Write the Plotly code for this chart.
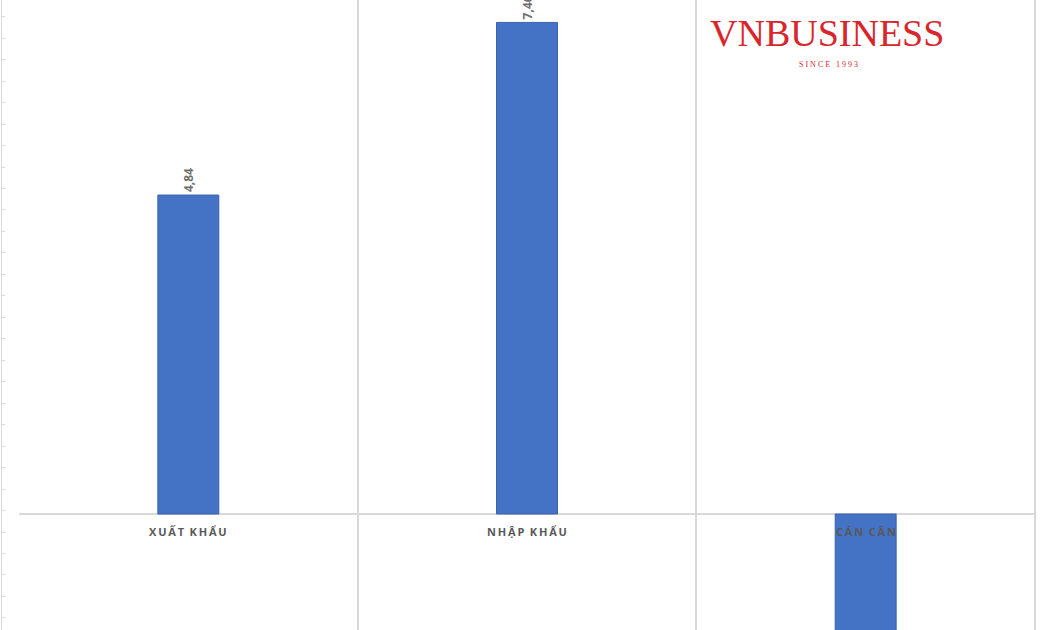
import plotly.graph_objects as go

# Data (billion USD)
categories = ["XUẤT KHẨU", "NHẬP KHẨU", "CÁN CÂN"]
values = [4.84, 7.46, -2.62]

BAR_COLOR = "#4472C4"
GRID_COLOR = "#d9d9d9"
LABEL_COLOR = "#595959"


def spaced(s):
    # mimic Excel's letter spacing on category labels
    return "\u2009".join(list(s)).replace("\u2009 \u2009", "\u2009\u2009\u2009")


fig = go.Figure()

fig.add_trace(go.Bar(
    x=categories,
    y=values,
    width=0.18,
    marker=dict(color=BAR_COLOR, line=dict(color="#3a63ad", width=1)),
    text=[f"{v:.2f}".replace(".", ",") for v in values],
    textposition="outside",
    textangle=-90,
    textfont=dict(family="Open Sans", size=12, color="#6f6f6f", weight="bold"),
    cliponaxis=True,
    hoverinfo="skip",
))

# Category labels sitting just under the zero line
for cat in categories:
    fig.add_annotation(
        x=cat, y=0, xref="x", yref="y",
        text=f"<b>{spaced(cat)}</b>",
        showarrow=False, yanchor="middle", xanchor="center", yshift=-17,
        font=dict(family="Open Sans", size=11, color=LABEL_COLOR),
    )

# Right-hand border of the plot area
fig.add_shape(type="line", xref="x domain", yref="y domain",
              x0=1, x1=1, y0=0, y1=1,
              line=dict(color=GRID_COLOR, width=2), layer="below")

# Logo
fig.add_annotation(
    x=0.788, y=0.948, xref="paper", yref="paper",
    xanchor="center", yanchor="middle",
    text="VNBUSINESS", showarrow=False,
    font=dict(family="Liberation Serif", size=38, color="#d9262c"),
)
fig.add_annotation(
    x=0.789, y=0.898, xref="paper", yref="paper",
    xanchor="center", yanchor="middle",
    text="S I N C E &nbsp; 1 9 9 3", showarrow=False,
    font=dict(family="Liberation Serif", size=8, color="#d9262c"),
)

fig.update_layout(
    width=1050,
    height=630,
    margin=dict(l=0, r=0, t=0, b=0),
    paper_bgcolor="white",
    plot_bgcolor="white",
    showlegend=False,
    xaxis=dict(
        domain=[19 / 1050, 1035 / 1050],
        range=[-0.5, 2.5],
        tickson="boundaries",
        showgrid=True,
        gridcolor=GRID_COLOR,
        gridwidth=2,
        showticklabels=False,
        ticks="",
        showline=False,
        zeroline=False,
    ),
    yaxis=dict(
        range=[-1.76, 7.80],
        anchor="free",
        position=0.001,
        showgrid=False,
        zeroline=True,
        zerolinecolor=GRID_COLOR,
        zerolinewidth=2,
        showline=True,
        linecolor=GRID_COLOR,
        linewidth=1,
        ticks="inside",
        ticklen=3,
        tickcolor=GRID_COLOR,
        tick0=7.546,
        dtick=0.3258,
        showticklabels=False,
    ),
)

fig.write_html("out.html", config={"displayModeBar": False},
               post_script="document.body.style.margin='0px';")
